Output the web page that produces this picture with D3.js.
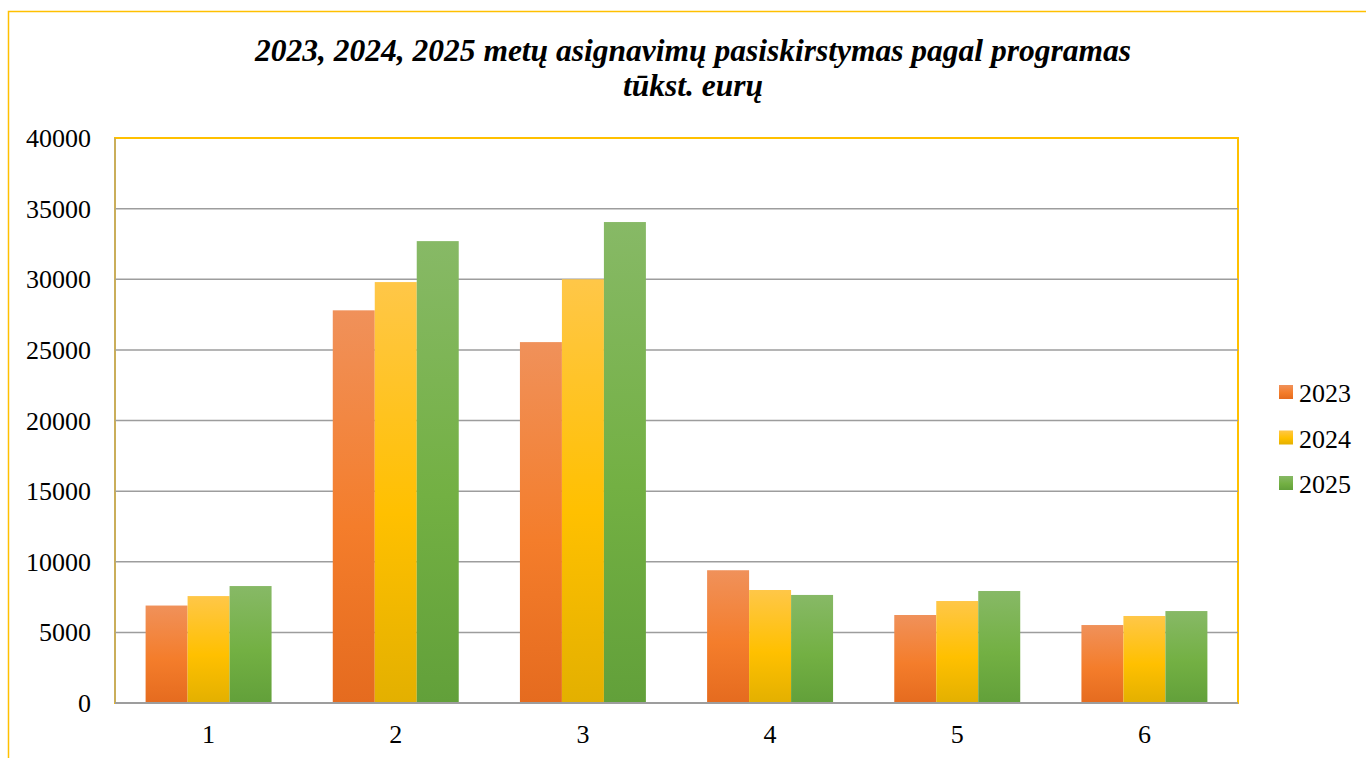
<!DOCTYPE html>
<html>
<head>
<meta charset="utf-8">
<script src="https://cdn.jsdelivr.net/npm/d3@7"></script>
<style>
  html, body { margin: 0; padding: 0; background: #fff; }
  svg { display: block; }
  text { font-family: "Liberation Serif", "Times New Roman", serif; fill: #000; }
</style>
</head>
<body>
<div id="chart"></div>
<script>
// chart data
const categories = ["1", "2", "3", "4", "5", "6"]
const seriesNames = ["2023", "2024", "2025"]
const values2023 = [6900, 27800, 25550, 9400, 6230, 5520]
const values2024 = [7570, 29800, 30000, 8000, 7220, 6160]
const values2025 = [8280, 32700, 34050, 7650, 7930, 6510]
const yTicks = [0, 5000, 10000, 15000, 20000, 25000, 30000, 35000, 40000]
const titleLines = ["2023, 2024, 2025 metų asignavimų pasiskirstymas pagal programas", "tūkst. eurų"]

const W = 1366, H = 758
const plot = {left: 115, top: 138, right: 1238, bottom: 703}

const svg = d3.select("#chart").append("svg")
    .attr("width", W).attr("height", H)

// gradients per series
const grads = [
    ["#f0915a", "#f47d2b", "#e56b1f"],
    ["#ffc748", "#ffc000", "#e3b000"],
    ["#87b966", "#73b043", "#62a03a"]
]
const defs = svg.append("defs")
grads.forEach(function(c, i) {
    const g = defs.append("linearGradient").attr("id", "g" + i)
        .attr("x1", 0).attr("y1", 0).attr("x2", 0).attr("y2", 1)
    g.append("stop").attr("offset", "0%").attr("stop-color", c[0])
    g.append("stop").attr("offset", "55%").attr("stop-color", c[1])
    g.append("stop").attr("offset", "100%").attr("stop-color", c[2])
})

// outer chart frame
svg.append("path")
    .attr("d", "M8.5," + H + " V11.5 H" + W)
    .attr("fill", "none").attr("stroke", "#ffc000").attr("stroke-width", 1.5)

// title
svg.append("text")
    .attr("x", 693).attr("text-anchor", "middle")
    .style("font-size", "31.5px").style("font-weight", "bold").style("font-style", "italic")
    .selectAll("tspan").data(titleLines).enter().append("tspan")
    .attr("x", 693)
    .attr("y", function(d, i) { return 61 + i * 35 })
    .text(function(d) { return d })

const x = d3.scaleBand().domain(categories)
    .range([plot.left, plot.right])
    .paddingInner(0.327).paddingOuter(0.1635)
const x1 = d3.scaleBand().domain(seriesNames).range([0, x.bandwidth()])
const y = d3.scaleLinear().domain([0, 40000]).range([plot.bottom, plot.top])

// plot area border
svg.append("rect")
    .attr("x", plot.left).attr("y", plot.top)
    .attr("width", plot.right - plot.left).attr("height", plot.bottom - plot.top)
    .attr("fill", "#fff").attr("stroke", "#ffc000").attr("stroke-width", 2)

// gridlines
svg.append("g").selectAll("line").data(yTicks.filter(function(d) { return d > 0 && d < 40000 }))
    .enter().append("line")
    .attr("x1", plot.left).attr("x2", plot.right)
    .attr("y1", function(d) { return y(d) }).attr("y2", function(d) { return y(d) })
    .attr("stroke", "#9d9d9d").attr("stroke-width", 1.5)

// bars
const allSeries = [values2023, values2024, values2025]
const rows = categories.map(function(c, i) {
    return seriesNames.map(function(s, j) { return {cat: c, key: s, idx: j, value: allSeries[j][i]} })
})
svg.append("g").selectAll("g").data(rows).enter().append("g")
    .attr("transform", function(d) { return "translate(" + x(d[0].cat) + ",0)" })
    .selectAll("rect").data(function(d) { return d }).enter().append("rect")
    .attr("x", function(d) { return x1(d.key) })
    .attr("width", x1.bandwidth())
    .attr("y", function(d) { return y(d.value) })
    .attr("height", function(d) { return y(0) - y(d.value) })
    .attr("fill", function(d) { return "url(#g" + d.idx + ")" })

// axes lines
svg.append("line").attr("x1", plot.left).attr("x2", plot.left)
    .attr("y1", plot.top).attr("y2", plot.bottom)
    .attr("stroke", "#b9a878").attr("stroke-width", 1.5)
svg.append("line").attr("x1", plot.left).attr("x2", plot.right)
    .attr("y1", plot.bottom).attr("y2", plot.bottom)
    .attr("stroke", "#9d9d9d").attr("stroke-width", 2)

// y tick labels
svg.append("g").selectAll("text").data(yTicks).enter().append("text")
    .attr("x", 91).attr("y", function(d) { return y(d) })
    .attr("dy", "0.35em").attr("text-anchor", "end")
    .style("font-size", "26px")
    .text(function(d) { return d })

// x labels
svg.append("g").selectAll("text").data(categories).enter().append("text")
    .attr("x", function(d) { return x(d) + x.bandwidth() / 2 })
    .attr("y", 743).attr("text-anchor", "middle")
    .style("font-size", "26px")
    .text(function(d) { return d })

// legend
const legend = svg.append("g").selectAll("g").data(seriesNames).enter().append("g")
    .attr("transform", function(d, i) { return "translate(1279," + (392 + i * 45.5) + ")" })
legend.append("rect").attr("x", 0).attr("y", -7).attr("width", 14).attr("height", 14)
    .attr("fill", function(d, i) { return "url(#g" + i + ")" })
legend.append("text").attr("x", 20).attr("y", 10)
    .style("font-size", "26px")
    .text(function(d) { return d })
</script>
</body>
</html>
